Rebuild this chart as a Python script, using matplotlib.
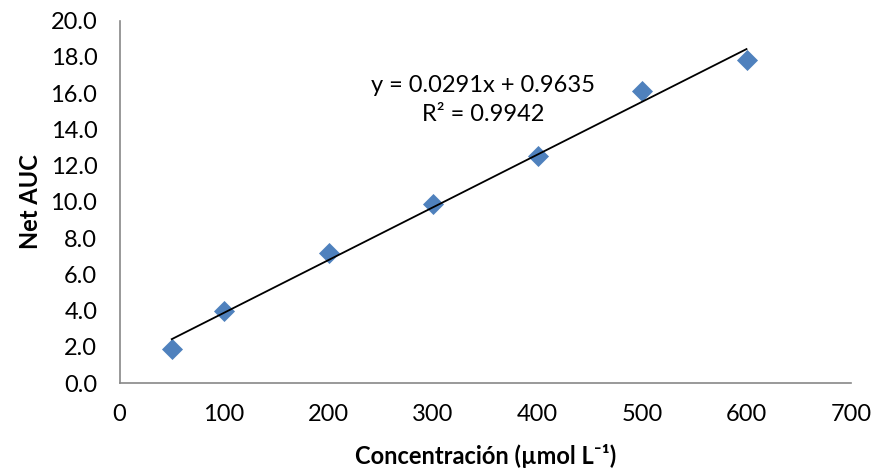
import matplotlib
matplotlib.use("Agg")
import matplotlib.pyplot as plt
import numpy as np

conc = [50, 100, 200, 300, 400, 500, 600]
auc = [1.9, 3.95, 7.2, 9.85, 12.5, 16.1, 17.8]
slope = 0.0291
intercept = 0.9635
r2 = 0.9942

plt.rcParams['font.family'] = ['Lato', 'DejaVu Sans']

fig = plt.figure(figsize=(8.75, 4.73), dpi=100)
ax = fig.add_axes([119.5/875, 1-383/473, (851-119.5)/875, (383-20.5)/473])

ax.scatter(conc, auc, marker='D', s=115, color='#4F81BD', zorder=3, linewidths=0)
xf = np.array([min(conc), max(conc)])
ax.plot(xf, slope*xf + intercept, color='black', lw=1.3, zorder=4)

ax.set_xlim(0, 700)
ax.set_ylim(0, 20)
ax.set_xticks(range(0, 701, 100))
ax.set_yticks(np.arange(0, 20.1, 2))
ax.set_yticklabels([f"{v:.1f}" for v in np.arange(0, 20.1, 2)])
ax.tick_params(length=0, labelsize=17, colors='black')
ax.tick_params(axis='y', pad=16)
ax.tick_params(axis='x', pad=15)
for s in ['top', 'right']:
    ax.spines[s].set_visible(False)
for s in ['left', 'bottom']:
    ax.spines[s].set_color('#888888')
    ax.spines[s].set_linewidth(1.2)

ax.set_ylabel('Net AUC', fontsize=17, fontweight='bold', labelpad=6)
ax.set_xlabel('Concentración (µmol L⁻¹)', fontsize=17, fontweight='bold', labelpad=14)

ax.text(348, 15.6, f"y = {slope}x + {intercept}\nR² = {r2}", fontsize=17,
        ha='center', va='center', linespacing=1.45, multialignment='center')

fig.savefig('out.png', dpi=100)
